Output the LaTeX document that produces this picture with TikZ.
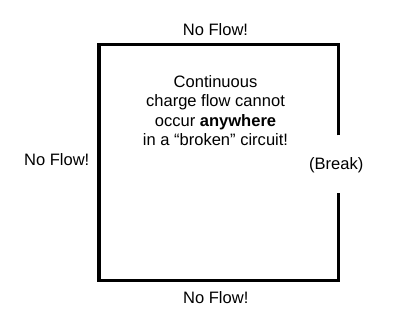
\documentclass[tikz,border=0pt]{standalone}
\usepackage{fontspec}
\setmainfont{Liberation Sans}
\usetikzlibrary{positioning}

\begin{document}
\begin{tikzpicture}[x=0.75pt, y=-0.75pt, every node/.style={font=\fontsize{12.4}{14.5}\selectfont, inner sep=0pt}, wire/.style={line width=2.3pt, line join=miter}, lbl/.style={align=center}]
  \useasboundingbox (0,0) rectangle (404,327);
  % circuit corners and break ends
  \coordinate (tl) at (99,44.7);
  \coordinate (tr) at (338.5,44.7);
  \coordinate (br) at (338.5,280.7);
  \coordinate (bl) at (99,280.7);
  \coordinate (gaptop) at (338.5,135.3);
  \coordinate (gapbot) at (338.5,192.7);
  \draw[wire] (gaptop) -- (tr) -- (tl) -- (bl) -- (br) -- (gapbot);
  % labels
  \node[lbl] (top) at (215.5,29.5) {No Flow!};
  \node[lbl] (bottom) at (215.8,298) {No Flow!};
  \node[lbl] (left) at (56.7,160) {No Flow!};
  \node[lbl] (brk) at (336.3,165) {(Break)};
  \node[lbl] (msg) at (215.5,110.5) {Continuous\\charge flow cannot\\occur \textbf{anywhere}\\in a “broken” circuit!};
\end{tikzpicture}
\end{document}
